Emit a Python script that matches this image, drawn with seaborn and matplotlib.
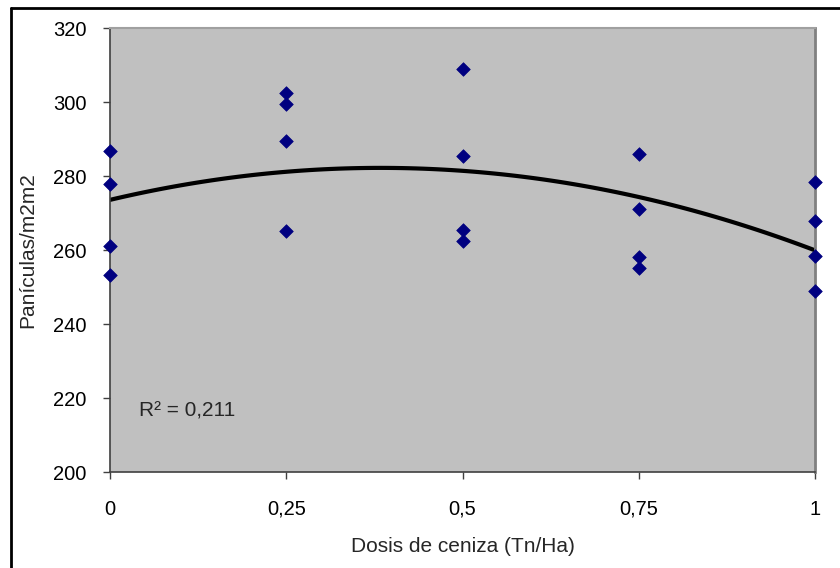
import numpy as np
import pandas as pd
import matplotlib
matplotlib.use("Agg")
import matplotlib.pyplot as plt
import seaborn as sns
from matplotlib.lines import Line2D

dosis = [0, 0, 0, 0,
         0.25, 0.25, 0.25, 0.25,
         0.5, 0.5, 0.5, 0.5,
         0.75, 0.75, 0.75, 0.75,
         1, 1, 1, 1]
paniculas = [286.8, 277.8, 261.1, 253.2,
             302.3, 299.4, 289.5, 265.2,
             308.8, 285.3, 265.4, 262.4,
             285.9, 271.1, 258.2, 255.2,
             278.5, 267.8, 258.4, 249.0]
xticks = [0, 0.25, 0.5, 0.75, 1]
xticklabels = ["0", "0,25", "0,5", "0,75", "1"]
yticks = [200, 220, 240, 260, 280, 300, 320]
r2_text = "R² = 0,211"

df = pd.DataFrame({"dosis": dosis, "paniculas": paniculas})

sns.set_style("white")
plt.rcParams["font.family"] = ["Liberation Sans", "DejaVu Sans"]

fig = plt.figure(figsize=(8.4, 5.68), dpi=100)
ax = fig.add_axes([110 / 840, 1 - 472 / 568, 705 / 840, 444 / 568])
ax.set_facecolor("#C0C0C0")

sns.regplot(data=df, x="dosis", y="paniculas", order=2, ci=None, scatter=False,
            truncate=True, line_kws={"color": "black", "lw": 3.0}, ax=ax)
sns.scatterplot(data=df, x="dosis", y="paniculas", marker="D", s=48,
                color="#000080", edgecolor="#000080", linewidth=0.5, ax=ax,
                zorder=3, clip_on=False)

ax.set_xlim(0, 1)
ax.set_ylim(200, 320)
ax.set_xticks(xticks)
ax.set_xticklabels(xticklabels)
ax.set_yticks(yticks)
ax.tick_params(axis="both", labelsize=14.5, colors="black", length=5,
               width=1, direction="out", bottom=True, left=True)
ax.tick_params(axis="x", pad=15, color="#404040")
ax.tick_params(axis="y", pad=12, color="#404040")

for side in ["left", "bottom"]:
    ax.spines[side].set_color("#404040")
    ax.spines[side].set_linewidth(1.2)
ax.spines["right"].set_color("#808080")
ax.spines["right"].set_linewidth(2)
ax.spines["top"].set_color("#A0A0A0")
ax.spines["top"].set_linewidth(1.5)

ax.set_xlabel("Dosis de ceniza (Tn/Ha)", fontsize=15, labelpad=13)
ax.set_ylabel("Panículas/m2m2", fontsize=15, labelpad=11)

ax.text(0.041, 216.5, r2_text, fontsize=15, ha="left", va="center")

# outer chart border (left and top visible)
fig.add_artist(Line2D([10.5 / 840, 10.5 / 840], [0, 1 - 7.5 / 568],
                      transform=fig.transFigure, color="black", lw=2))
fig.add_artist(Line2D([10.5 / 840, 1], [1 - 7.5 / 568, 1 - 7.5 / 568],
                      transform=fig.transFigure, color="black", lw=2))

fig.savefig("out.png", dpi=100)
